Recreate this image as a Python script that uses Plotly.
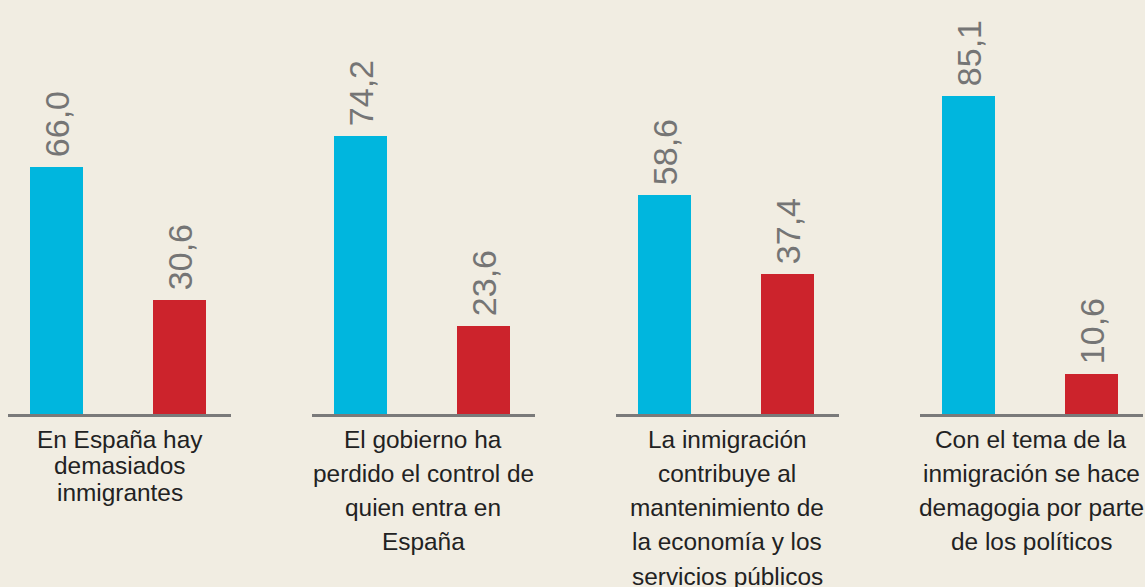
import plotly.graph_objects as go

# ---- data ----
questions = [
    ["En España hay", "demasiados", "inmigrantes"],
    ["El gobierno ha", "perdido el control de", "quien entra en", "España"],
    ["La inmigración", "contribuye al", "mantenimiento de", "la economía y los", "servicios públicos"],
    ["Con el tema de la", "inmigración se hace", "demagogia por parte", "de los políticos"],
]
series_names = ["De acuerdo", "En desacuerdo"]
values_agree = [66.0, 74.2, 58.6, 85.1]
values_disagree = [30.6, 23.6, 37.4, 10.6]

# ---- style ----
W, H = 1145, 587
BG = "#F1EDE2"
BLUE = "#00B6DE"
RED = "#CC232C"
LINE = "#7A7A7A"
group_start_px = 8.3
group_step_px = 303.9
group_width_px = 222.5
line_spacing = [26.7, 34.3, 34.3, 34.3]
first_baseline_px = 447
plot_bottom_px = 414
px_per_unit = 3.74

fig = go.Figure()
layout = dict(
    width=W, height=H,
    paper_bgcolor=BG, plot_bgcolor=BG,
    margin=dict(l=0, r=0, t=0, b=H - plot_bottom_px),
    showlegend=False,
    separators=",.",
    bargap=0,
    yaxis=dict(range=[0, plot_bottom_px / px_per_unit], visible=False, domain=[0, 1]),
    font=dict(family="Liberation Sans"),
)

annotations = []
for i in range(len(questions)):
    ax = "x" if i == 0 else f"x{i + 1}"
    axkey = "xaxis" if i == 0 else f"xaxis{i + 1}"
    fig.add_trace(go.Bar(
        x=series_names,
        y=[values_agree[i], values_disagree[i]],
        xaxis=ax, yaxis="y",
        marker=dict(color=[BLUE, RED], line=dict(width=0)),
        width=0.428,
        texttemplate="\u2009%{y:.1f}",
        textposition="outside",
        textangle=-90,
        textfont=dict(size=34, color="#757575", family="Liberation Sans"),
        constraintext="none",
        cliponaxis=False,
        hoverinfo="skip",
    ))
    d0 = (group_start_px + i * group_step_px) / W
    d1 = d0 + group_width_px / W
    layout[axkey] = dict(
        domain=[d0, min(d1, 1.0)],
        anchor="y",
        type="category",
        range=[-0.389, 1.408],
        showticklabels=False,
        ticks="",
        showgrid=False,
        zeroline=False,
        showline=True,
        linecolor=LINE,
        linewidth=3,
        fixedrange=True,
    )
    for j, txt in enumerate(questions[i]):
        baseline = first_baseline_px + j * line_spacing[i]
        annotations.append(dict(
            text=txt,
            xref=f"{ax} domain", x=0.5, xanchor="center",
            yref="paper", y=0, yanchor="middle",
            yshift=-(baseline - 8 - plot_bottom_px),
            showarrow=False,
            font=dict(size=24.4, color="#222222", family="Liberation Sans"),
        ))

layout["annotations"] = annotations
fig.update_layout(**layout)
fig.write_html(
    "out.html",
    config={"displayModeBar": False},
    post_script="document.body.style.margin='0';document.body.style.padding='0';",
)
